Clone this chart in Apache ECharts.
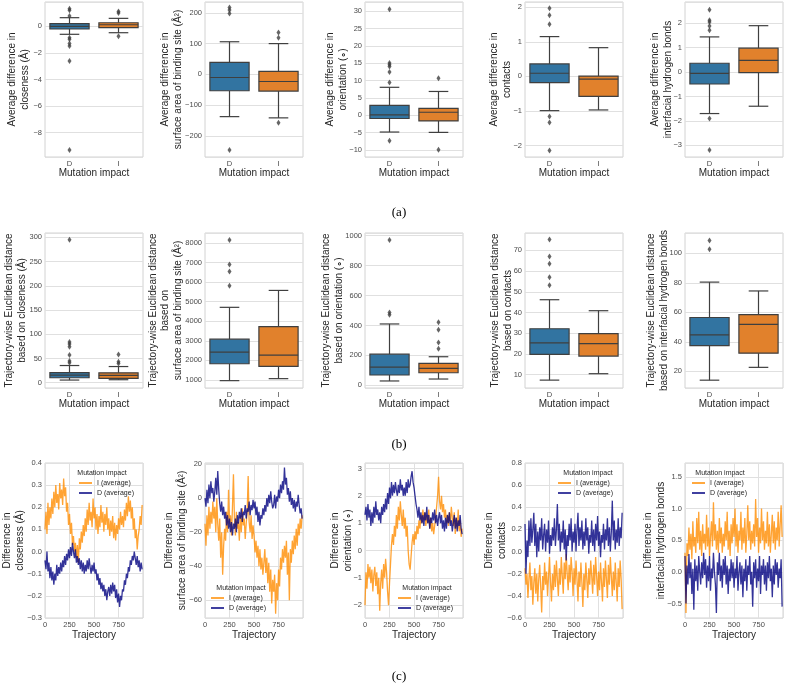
<!DOCTYPE html>
<html><head><meta charset="utf-8">
<script src="https://cdn.jsdelivr.net/npm/echarts@6/dist/echarts.min.js"></script>
<style>html,body{margin:0;padding:0;background:#fff}#c{width:785px;height:683px}</style>
</head><body><div id="c"></div><script>
// ---------------- DATA ----------------
const categories = ['D', 'I'];
// Box stats: [lower whisker, Q1, median, Q3, upper whisker]
const avgClosenessD = [-0.6, -0.2, 0.0, 0.2, 0.65];
const avgClosenessI = [-0.48, -0.1, 0.12, 0.27, 0.6];
const avgClosenessOutD = [1.33, 1.2, 0.78, -0.85, -0.97, -1.3, -1.48, -2.6, -9.3];
const avgClosenessOutI = [1.12, 1.0, -0.75];

const avgSurfaceD = [-137, -53, -10, 39, 106];
const avgSurfaceI = [-141, -54, -23, 10, 100];
const avgSurfaceOutD = [217, 209, 198, -245];
const avgSurfaceOutI = [136, 119, -157];

const avgOrientD = [-4.8, -0.9, 0.15, 2.9, 8.1];
const avgOrientI = [-4.9, -1.6, 0.9, 2.05, 6.9];
const avgOrientOutD = [30.6, 15.1, 14.6, 14.1, 12.5, 9.5, -7.3];
const avgOrientOutI = [10.7, -9.9];

const avgContactsD = [-0.99, -0.18, 0.09, 0.36, 1.15];
const avgContactsI = [-0.97, -0.58, -0.08, 0.01, 0.83];
const avgContactsOutD = [1.97, 1.77, 1.51, -1.16, -1.33, -2.14];
const avgContactsOutI = [];

const avgHbondD = [-1.7, -0.49, -0.05, 0.36, 1.44];
const avgHbondI = [-1.4, -0.02, 0.48, 0.98, 1.9];
const avgHbondOutD = [2.55, 2.12, 2.05, 1.89, 1.71, -1.9, -3.19];
const avgHbondOutI = [];

const distClosenessD = [5.4, 10.2, 15.6, 20.8, 35.4];
const distClosenessI = [6.1, 8.8, 15.0, 20.4, 33.3];
const distClosenessOutD = [295, 84, 80, 74, 57, 45, 41];
const distClosenessOutI = [58, 43, 39.5];

const distSurfaceD = [966, 1830, 2424, 3085, 4712];
const distSurfaceI = [1068, 1695, 2271, 3729, 5576];
const distSurfaceOutD = [8152, 6898, 6542, 5814];
const distSurfaceOutI = [];

const distOrientD = [29, 69, 122, 208, 410];
const distOrientI = [42, 84, 113, 146, 191];
const distOrientOutD = [971, 486, 472];
const distOrientOutI = [421, 372, 286, 244];

const distContactsD = [7.4, 19.8, 25.4, 32.2, 46.2];
const distContactsI = [10.5, 19.0, 25.0, 29.8, 40.9];
const distContactsOutD = [75.3, 67, 63.6, 57, 53.2];
const distContactsOutI = [];

const distHbondD = [14, 37.5, 44.7, 56.5, 80.5];
const distHbondI = [22.7, 32.3, 51.8, 58.5, 74.5];
const distHbondOutD = [108.7, 102.7];
const distHbondOutI = [];

// Trajectory frames sampled every 10 frames (0..990)
const frames = Array.from({length: 100}, (_, i) => i * 10);
const seriesNames = ['I (average)', 'D (average)'];

const trajClosenessI = [
 0.10,0.18,0.08,0.22,0.12,0.20,0.15,0.24,0.17,0.27,
 0.20,0.30,0.22,0.26,0.19,0.31,0.24,0.28,0.21,0.33,
 0.25,0.29,0.18,0.22,0.12,0.17,0.08,0.13,0.03,0.07,
 0.00,0.04,-0.03,0.03,-0.05,0.06,0.01,0.09,0.04,0.12,
 0.07,0.15,0.09,0.19,0.12,0.22,0.14,0.18,0.11,0.24,
 0.15,0.20,0.10,0.17,0.08,0.16,0.11,0.21,0.13,0.18,
 0.09,0.17,0.12,0.20,0.10,0.15,0.07,0.14,0.09,0.16,
 0.06,0.13,0.05,0.12,0.08,0.15,0.10,0.18,0.12,0.16,
 0.11,0.19,0.14,0.22,0.16,0.25,0.18,0.23,0.15,0.20,
 0.10,0.15,0.06,0.10,0.01,0.07,0.10,0.16,0.12,0.21];
const trajClosenessD = [
 -0.04,-0.08,0.00,-0.09,-0.05,-0.12,-0.07,-0.13,-0.09,-0.15,
 -0.10,-0.13,-0.06,-0.11,-0.07,-0.10,-0.05,-0.09,-0.04,-0.07,
 -0.02,-0.06,-0.01,-0.04,0.01,-0.03,0.02,-0.02,0.04,0.00,
 -0.03,0.01,-0.05,-0.02,-0.06,-0.03,-0.08,-0.04,-0.09,-0.05,
 -0.10,-0.06,-0.09,-0.04,-0.08,-0.03,-0.07,-0.10,-0.06,-0.09,
 -0.05,-0.10,-0.08,-0.13,-0.10,-0.15,-0.12,-0.17,-0.14,-0.18,
 -0.15,-0.20,-0.17,-0.22,-0.18,-0.16,-0.20,-0.15,-0.19,-0.14,
 -0.18,-0.15,-0.21,-0.17,-0.23,-0.19,-0.25,-0.20,-0.22,-0.17,
 -0.18,-0.13,-0.15,-0.10,-0.12,-0.07,-0.09,-0.04,-0.06,-0.02,
 -0.04,0.00,-0.03,-0.06,-0.02,-0.07,-0.04,-0.09,-0.05,-0.08];

const trajSurfaceI = [
 -15,-28,-10,-22,-5,-18,-8,-15,-2,-12,
 -5,-20,0,-15,-25,-12,-35,-20,-45,-28,
 -18,-25,-8,-20,5,-15,-10,-22,-5,14,
 -12,-22,-8,-18,-14,-25,-10,-20,-6,-16,
 -12,-24,-15,-8,13,-14,-20,-10,-24,-16,
 -22,-32,-25,-35,-28,-40,-30,-42,-35,-45,
 -38,-30,-44,-35,-50,-38,-55,-42,-62,-48,
 -55,-45,-68,-50,-60,-42,-52,-35,-42,-30,
 -38,-28,-35,-25,-45,-32,-60,-30,-38,-25,
 -33,-22,-30,-18,-28,-15,-22,-12,-18,-10];
const trajSurfaceD = [
 0,-5,5,-3,8,0,10,3,6,-2,
 4,12,2,16,5,-3,-8,-2,-10,-5,
 -12,-8,-16,-10,-18,-12,-20,-14,-22,-15,
 -18,-12,-20,-10,-15,-8,-12,-6,-14,-8,
 -10,-4,-12,-6,-8,-2,-10,-4,-7,-1,
 -6,-2,-10,-5,-14,-8,-16,-10,-12,-6,
 -10,-4,-8,0,-5,2,-3,4,-2,-6,
 -4,2,-6,1,-2,5,0,8,3,10,
 5,18,8,12,2,6,-2,4,-4,0,
 -6,-1,-8,-2,-5,2,-4,-9,-6,-12];

const trajOrientI = [
 -2.0,-0.8,-1.4,-0.5,-1.0,-0.6,-1.2,-0.7,-1.5,-0.9,
 -0.6,-1.3,-0.8,-1.6,-1.0,-2.2,-1.2,-0.7,-1.4,-0.5,
 -1.0,-0.3,-0.8,-1.5,-2.0,-1.2,-0.5,0.2,0.6,0.2,
 0.9,0.5,1.3,0.8,1.6,1.1,1.8,1.3,0.9,1.5,
 0.8,1.2,0.5,0.9,0.0,-0.5,-0.7,-0.2,0.3,0.6,
 0.2,0.7,0.4,0.9,0.6,1.1,0.8,1.3,1.0,1.5,
 1.1,1.4,0.9,1.3,1.0,1.5,0.8,1.2,0.7,1.0,
 0.6,0.9,1.2,1.6,2.0,2.7,1.8,1.5,2.0,1.4,
 1.7,1.2,1.5,1.0,1.3,0.9,1.4,1.0,1.6,1.2,
 0.9,1.4,0.6,1.2,0.8,1.5,0.7,1.1,0.5,0.8];
const trajOrientD = [
 1.3,1.6,1.1,1.7,1.2,1.5,0.9,1.4,1.0,1.6,
 1.2,1.8,1.3,1.5,1.1,1.4,1.0,1.6,1.3,1.7,
 1.4,1.9,1.5,2.1,1.7,2.3,1.9,2.5,2.0,2.4,
 2.1,2.5,2.2,2.0,2.4,2.1,2.6,2.2,2.4,2.0,
 2.3,2.0,2.5,2.1,2.6,2.3,2.4,2.7,2.9,2.5,
 2.3,2.0,1.7,1.5,1.2,1.6,1.1,1.4,1.0,1.3,
 0.9,1.4,1.1,1.6,1.0,1.3,0.8,1.2,1.0,1.4,
 1.1,1.5,1.0,1.3,0.9,1.2,1.4,1.0,1.3,0.8,
 1.1,0.7,1.2,0.8,1.3,1.0,1.4,0.9,1.1,0.7,
 1.0,1.3,0.8,1.2,0.7,1.1,0.9,1.3,0.8,0.6];

const trajContactsI = [
 -0.15,-0.30,-0.20,-0.42,-0.25,-0.10,-0.35,-0.22,-0.48,-0.28,
 -0.15,-0.38,-0.20,-0.45,-0.25,-0.12,-0.32,-0.55,-0.22,-0.35,
 -0.10,-0.30,-0.18,-0.40,-0.22,-0.05,-0.28,-0.45,-0.20,-0.35,
 -0.12,-0.32,-0.08,-0.25,-0.40,-0.15,-0.30,-0.05,-0.22,-0.38,
 -0.10,-0.25,-0.02,-0.20,-0.35,-0.12,-0.28,-0.05,-0.18,-0.40,
 -0.15,-0.30,-0.08,-0.25,-0.45,-0.18,-0.32,-0.10,-0.28,-0.50,
 -0.20,-0.35,-0.10,-0.25,-0.42,-0.15,-0.30,-0.08,-0.22,-0.38,
 -0.12,-0.30,-0.05,-0.22,-0.40,-0.18,-0.35,-0.10,-0.28,-0.45,
 -0.15,-0.32,-0.08,-0.25,-0.42,-0.12,-0.30,-0.05,-0.22,-0.40,
 -0.18,-0.35,-0.10,-0.28,-0.45,-0.15,-0.32,-0.08,-0.25,-0.52];
const trajContactsD = [
 0.25,-0.20,0.10,-0.05,0.28,0.05,0.30,0.08,0.20,0.35,
 0.05,0.25,-0.05,0.18,0.00,0.22,0.10,0.30,0.02,0.15,
 0.25,0.00,0.20,0.08,0.28,-0.02,0.15,0.05,0.22,0.10,
 0.30,0.05,0.20,0.43,0.10,0.25,0.00,0.18,0.08,0.28,
 0.02,0.20,-0.08,0.15,0.05,0.25,0.10,0.30,0.00,0.18,
 0.08,0.25,0.00,0.20,0.35,0.05,0.22,0.10,0.28,0.02,
 0.18,0.05,0.30,0.10,0.22,-0.02,0.15,0.08,0.28,0.05,
 0.20,0.00,0.25,0.10,0.32,0.05,0.18,-0.05,0.15,0.08,
 0.25,0.02,0.20,0.10,0.30,0.05,0.22,0.00,0.18,0.46,
 0.10,0.28,0.02,0.20,0.08,0.30,0.05,0.22,0.12,0.35];

const trajHbondI = [
 0.30,-0.65,0.45,0.25,0.70,0.35,0.60,0.20,0.80,0.40,
 0.55,0.30,0.85,0.45,0.95,0.35,0.65,0.25,0.75,0.45,
 0.60,0.35,0.90,0.40,0.70,0.25,0.55,0.80,0.40,1.10,
 0.50,0.75,0.35,0.65,0.30,0.85,0.45,0.70,0.30,0.60,
 0.40,0.80,0.50,0.95,0.35,0.65,0.25,0.75,0.45,0.85,
 0.55,1.00,0.40,0.75,0.30,0.65,0.50,0.95,0.35,0.70,
 0.45,0.85,0.30,0.60,1.05,0.50,0.80,0.35,0.65,0.45,
 0.75,0.40,1.15,0.55,0.85,0.30,0.70,0.45,1.00,0.50,
 0.80,0.35,0.65,0.45,0.95,0.40,0.75,0.30,0.60,0.90,
 0.45,0.80,0.35,0.70,0.50,0.95,0.40,0.75,1.05,0.55];
const trajHbondD = [
 0.25,-0.50,0.10,-0.20,0.28,-0.10,0.15,-0.35,0.05,-0.60,
 0.20,-0.15,0.10,-0.30,0.25,0.00,-0.20,0.15,-0.10,0.30,
 -0.05,0.20,-0.25,0.10,-0.15,0.25,-0.30,0.05,-0.10,0.30,
 0.00,-0.20,-0.65,0.15,-0.05,0.30,-0.15,0.10,-0.25,0.20,
 -0.05,0.25,-0.20,0.10,-0.35,0.05,-0.15,0.20,-0.10,0.15,
 -0.25,0.05,-0.10,0.25,-0.30,0.00,0.15,-0.20,0.10,-0.40,
 0.05,-0.15,0.20,-0.30,0.10,-0.05,0.25,-0.20,0.00,-0.55,
 0.15,-0.10,0.20,-0.25,0.05,-0.15,0.25,-0.35,0.10,-0.05,
 0.20,-0.20,0.10,-0.30,0.15,-0.10,0.25,-0.15,0.05,-0.40,
 0.10,-0.20,0.20,-0.05,0.15,-0.25,0.05,-0.10,0.20,-0.55];

// ---------------- STYLE / LAYOUT ----------------
const FONT = 'Liberation Sans';
const GRID_COLOR = '#e0e0e0';
const BORDER_COLOR = '#d2d2d2';
const TEXT_DARK = '#262626';
const TICK_COLOR = '#4a4a4a';
const BOX_COLORS = ['#3274a1', '#e1812c'];
const EDGE = '#3f3f3f';
const LINE_COLORS = ['#ff8c00', '#000080'];
const colLefts = [45, 205, 365, 525, 685];
const rowTops = [2, 233, 463];
const PW = 98, PH = 155;

const fmt = dec => v => Number(v).toFixed(dec).replace('-', '\u2212');

const boxPanels = [
 {r:0,c:0,name:'Average difference in\ncloseness (Å)',min:-9.83,max:1.83,step:2,gap:14,box:[avgClosenessD,avgClosenessI],out:[avgClosenessOutD,avgClosenessOutI]},
 {r:0,c:1,name:'Average difference in\nsurface area of binding site (Å²)',min:-268,max:235,step:100,gap:21,box:[avgSurfaceD,avgSurfaceI],out:[avgSurfaceOutD,avgSurfaceOutI]},
 {r:0,c:2,name:'Average difference in\norientation (∘)',min:-12,max:32.7,step:5,gap:16,box:[avgOrientD,avgOrientI],out:[avgOrientOutD,avgOrientOutI]},
 {r:0,c:3,name:'Average difference in\ncontacts',min:-2.33,max:2.15,step:1,gap:12,box:[avgContactsD,avgContactsI],out:[avgContactsOutD,avgContactsOutI]},
 {r:0,c:4,name:'Average difference in\ninterfacial hydrogen bonds',min:-3.48,max:2.87,step:1,gap:11,box:[avgHbondD,avgHbondI],out:[avgHbondOutD,avgHbondOutI]},
 {r:1,c:0,name:'Trajectory-wise Euclidean distance\nbased on closeness (Å)',min:-11,max:309,step:50,gap:17,box:[distClosenessD,distClosenessI],out:[distClosenessOutD,distClosenessOutI]},
 {r:1,c:1,name:'Trajectory-wise Euclidean distance\nbased on\nsurface area of binding site (Å²)',min:590,max:8510,step:1000,gap:21,box:[distSurfaceD,distSurfaceI],out:[distSurfaceOutD,distSurfaceOutI]},
 {r:1,c:2,name:'Trajectory-wise Euclidean distance\nbased on orientation (∘)',min:-18,max:1018,step:200,gap:20,box:[distOrientD,distOrientI],out:[distOrientOutD,distOrientOutI]},
 {r:1,c:3,name:'Trajectory-wise Euclidean distance\nbased on contacts',min:3.6,max:78.4,step:10,gap:11,box:[distContactsD,distContactsI],out:[distContactsOutD,distContactsOutI]},
 {r:1,c:4,name:'Trajectory-wise Euclidean distance\nbased on interfacial hydrogen bonds',min:8.7,max:113.8,step:20,gap:15,box:[distHbondD,distHbondI],out:[distHbondOutD,distHbondOutI]}
];
const linePanels = [
 {c:0,name:'Difference in\ncloseness (Å)',min:-0.3,max:0.4,step:0.1,dec:1,gap:19,I:trajClosenessI,D:trajClosenessD,lg:[79,478],lt:[102,473],ends:true},
 {c:1,name:'Difference in\nsurface area of binding site (Å²)',min:-70.5,max:20.7,step:20,dec:0,gap:17,I:trajSurfaceI,D:trajSurfaceD,lg:[211,593],lt:[241,588],ends:false},
 {c:2,name:'Difference in\norientation (∘)',min:-2.47,max:3.2,step:1,dec:0,gap:11,I:trajOrientI,D:trajOrientD,lg:[398,593],lt:[427,588],ends:false},
 {c:3,name:'Difference in\ncontacts',min:-0.6,max:0.8,step:0.2,dec:1,gap:17,I:trajContactsI,D:trajContactsD,lg:[558,478],lt:[588,473],ends:true},
 {c:4,name:'Difference in\ninterfacial hydrogen bonds',min:-0.73,max:1.72,step:0.5,dec:1,gap:18,I:trajHbondI,D:trajHbondD,lg:[692,478],lt:[720,473],ends:false}
];

const grids = [], xAxes = [], yAxes = [], series = [], legends = [], graphics = [];
const yName = (name, gap) => ({name, nameLocation:'middle', nameGap:gap, nameRotate:90, nameMoveOverlap:false,
  nameTextStyle:{fontSize:10, lineHeight:12.5, color:TEXT_DARK, fontFamily:FONT}});
const gridOf = (l,t) => ({left:l, top:t, width:PW, height:PH, show:true, borderColor:BORDER_COLOR, borderWidth:1, backgroundColor:'#fff', containLabel:false, outerBoundsMode:'none'});

function renderBox(params, api) {
  const c = api.value(0);
  const p = k => api.coord([c, api.value(k)]);
  const lo = p(1), q1 = p(2), md = p(3), q3 = p(4), hi = p(5);
  const bw = api.size([1, 0])[0] * 0.8;
  const x = lo[0];
  const ls = {stroke: EDGE, lineWidth: 1.2, fill: null};
  return {type:'group', children:[
    {type:'line', shape:{x1:x,y1:q3[1],x2:x,y2:hi[1]}, style:ls},
    {type:'line', shape:{x1:x,y1:q1[1],x2:x,y2:lo[1]}, style:ls},
    {type:'line', shape:{x1:x-bw/4,y1:hi[1],x2:x+bw/4,y2:hi[1]}, style:ls},
    {type:'line', shape:{x1:x-bw/4,y1:lo[1],x2:x+bw/4,y2:lo[1]}, style:ls},
    {type:'rect', shape:{x:x-bw/2,y:q3[1],width:bw,height:q1[1]-q3[1]}, style:{fill:BOX_COLORS[c], stroke:EDGE, lineWidth:1.2}},
    {type:'line', shape:{x1:x-bw/2,y1:md[1],x2:x+bw/2,y2:md[1]}, style:ls}
  ]};
}

boxPanels.forEach(p => {
  const i = grids.length;
  grids.push(gridOf(colLefts[p.c], rowTops[p.r]));
  xAxes.push({gridIndex:i, type:'category', data:categories, boundaryGap:true,
    axisLine:{show:false}, axisTick:{show:false}, splitLine:{show:false},
    axisLabel:{margin:3, fontSize:7.5, color:TICK_COLOR, fontFamily:FONT},
    name:'Mutation impact', nameLocation:'middle', nameGap:11, nameMoveOverlap:false,
    nameTextStyle:{fontSize:10, color:TEXT_DARK, fontFamily:FONT}});
  yAxes.push(Object.assign({gridIndex:i, type:'value', min:p.min, max:p.max, minInterval:p.step, maxInterval:p.step,
    axisLine:{show:false}, axisTick:{show:false},
    splitLine:{show:true, lineStyle:{color:GRID_COLOR, width:1}},
    axisLabel:{margin:3, fontSize:7.5, color:TICK_COLOR, fontFamily:FONT, showMinLabel:false, showMaxLabel:false, formatter:fmt(0)}},
    yName(p.name, p.gap)));
  series.push({type:'custom', xAxisIndex:i, yAxisIndex:i, renderItem:renderBox, silent:true, z:2,
    encode:{x:0, y:[1,2,3,4,5]},
    data: p.box.map((b, k) => [k].concat(b))});
  series.push({type:'scatter', xAxisIndex:i, yAxisIndex:i, symbol:'diamond', symbolSize:[4,6], silent:true, z:3,
    itemStyle:{color:EDGE},
    data: p.out[0].map(v => [0, v]).concat(p.out[1].map(v => [1, v]))});
});

linePanels.forEach(p => {
  const i = grids.length;
  grids.push(gridOf(colLefts[p.c], rowTops[2]));
  xAxes.push({gridIndex:i, type:'value', min:0, max:999, minInterval:250, maxInterval:250,
    axisLine:{show:false}, axisTick:{show:false},
    splitLine:{show:true, lineStyle:{color:GRID_COLOR, width:1}},
    axisLabel:{margin:3, fontSize:7.5, color:TICK_COLOR, fontFamily:FONT, showMinLabel:true, showMaxLabel:false, formatter:fmt(0)},
    name:'Trajectory', nameLocation:'middle', nameGap:12, nameMoveOverlap:false,
    nameTextStyle:{fontSize:10, color:TEXT_DARK, fontFamily:FONT}});
  yAxes.push(Object.assign({gridIndex:i, type:'value', min:p.min, max:p.max, minInterval:p.step, maxInterval:p.step,
    axisLine:{show:false}, axisTick:{show:false},
    splitLine:{show:true, lineStyle:{color:GRID_COLOR, width:1}},
    axisLabel:{margin:3, fontSize:7.5, color:TICK_COLOR, fontFamily:FONT, showMinLabel:p.ends, showMaxLabel:p.ends, formatter:fmt(p.dec)}},
    yName(p.name, p.gap)));
  [p.I, p.D].forEach((vals, k) => {
    series.push({type:'line', name:seriesNames[k], xAxisIndex:i, yAxisIndex:i, showSymbol:false, silent:true,
      color:LINE_COLORS[k], lineStyle:{width:1.3, opacity:0.8}, z:2+k,
      data: frames.map((f, j) => [f, vals[j]])});
  });
  legends.push({data:seriesNames, orient:'vertical', left:p.lg[0], top:p.lg[1], icon:'rect', itemWidth:13, itemHeight:1.5,
    itemGap:0, padding:0, selectedMode:false, textStyle:{fontSize:7, lineHeight:10, color:TEXT_DARK, fontFamily:FONT}});
  graphics.push({type:'text', x:p.lt[0], y:p.lt[1], z:100,
    style:{text:'Mutation impact', font:'7px "Liberation Sans"', fill:TEXT_DARK, align:'center', verticalAlign:'middle', textAlign:'center', textVerticalAlign:'middle'}});
});

[['(a)',213],['(b)',445],['(c)',677]].forEach(([t,y]) => graphics.push({type:'text', x:399, y:y,
  style:{text:t, font:'13px "Liberation Serif"', fill:'#000', align:'center', verticalAlign:'middle', textAlign:'center', textVerticalAlign:'middle'}}));

const chart = echarts.init(document.getElementById('c'), null, {renderer:'canvas'});
chart.setOption({
  animation:false, backgroundColor:'#fff',
  textStyle:{fontFamily:FONT},
  grid:grids, xAxis:xAxes, yAxis:yAxes, series:series, legend:legends, graphic:graphics
});
</script></body></html>
